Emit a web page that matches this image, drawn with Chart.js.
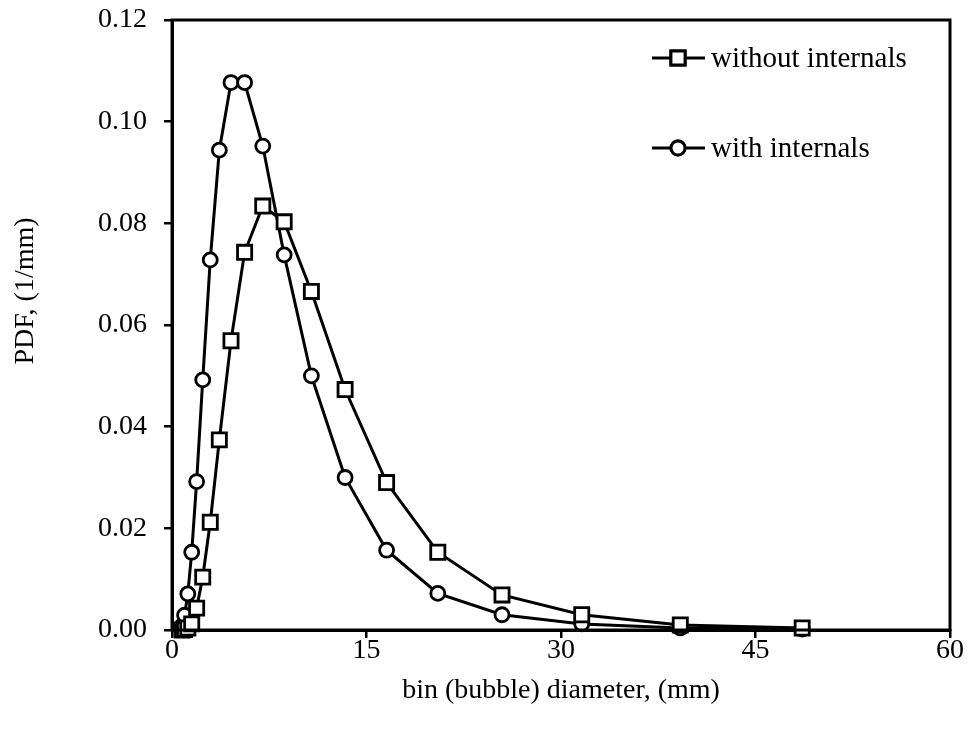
<!DOCTYPE html>
<html>
<head>
<meta charset="utf-8">
<script src="https://cdn.jsdelivr.net/npm/chart.js@4.4.1/dist/chart.umd.min.js"></script>
<style>
  html, body { margin: 0; padding: 0; background: #fff; }
</style>
</head>
<body>
<canvas id="pdfChart" width="971" height="751"></canvas>
<script>
// bin (bubble) diameter, mm
const bins = [0.78, 0.97, 1.22, 1.52, 1.9, 2.37, 2.95, 3.65, 4.55, 5.6, 7.0, 8.65, 10.75, 13.35, 16.55, 20.5, 25.45, 31.6, 39.2, 48.6];
// PDF, 1/mm
const withoutInternals = [0.0000, 0.0001, 0.0004, 0.0012, 0.0043, 0.0104, 0.0212, 0.0374, 0.0569, 0.0743, 0.0834, 0.0803, 0.0666, 0.0473, 0.0290, 0.0153, 0.0069, 0.0030, 0.0010, 0.0004];
const withInternals = [0.0008, 0.0029, 0.0071, 0.0153, 0.0292, 0.0492, 0.0728, 0.0944, 0.1077, 0.1077, 0.0952, 0.0738, 0.0500, 0.0300, 0.0157, 0.0072, 0.0030, 0.0012, 0.0004, 0.0002];
const seriesNames = ['without internals', 'with internals'];

const xTicks = [0, 15, 30, 45, 60];
const yTicks = [0, 0.02, 0.04, 0.06, 0.08, 0.10, 0.12];
const yTitle = 'PDF, (1/mm)';

const serif = "'Liberation Serif', 'Times New Roman', serif";
Chart.defaults.font.family = serif;
Chart.defaults.color = '#000';

const toPoints = (ys) => bins.map((x, i) => ({ x: x, y: ys[i] }));

// frame round the plot, y title and legend inside the plot area
const framePlugin = {
    id: 'frame',
    afterDraw(chart) {
        const ctx = chart.ctx;
        const a = chart.chartArea;
        ctx.save();
        ctx.strokeStyle = '#000';
        ctx.lineWidth = 3;
        ctx.strokeRect(a.left, a.top, a.right - a.left, a.bottom - a.top);

        // y axis title (sits a bit above the plot's middle in the original)
        ctx.save();
        ctx.translate(26, 291);
        ctx.rotate(-Math.PI / 2);
        ctx.fillStyle = '#000';
        ctx.font = '28px ' + serif;
        ctx.textAlign = 'center';
        ctx.textBaseline = 'middle';
        ctx.fillText(yTitle, 0, 0);
        ctx.restore();

        const rows = [
            { y: 58, style: 'rect', r: 10 },
            { y: 148, style: 'circle', r: 7 }
        ];
        rows.forEach((row, i) => {
            ctx.lineWidth = 3;
            ctx.beginPath();
            ctx.moveTo(652, row.y);
            ctx.lineTo(705, row.y);
            ctx.stroke();
            ctx.fillStyle = '#fff';
            Chart.helpers.drawPoint(ctx, { pointStyle: row.style, radius: row.r, borderWidth: 2.5 }, 678, row.y);
            ctx.fill();
            ctx.stroke();
            ctx.fillStyle = '#000';
            ctx.font = '29px ' + serif;
            ctx.textBaseline = 'middle';
            ctx.textAlign = 'left';
            ctx.fillText(seriesNames[i], 711, row.y + 1);
        });
        ctx.restore();
    }
};

new Chart(document.getElementById('pdfChart'), {
    type: 'scatter',
    data: {
        datasets: [{
            label: seriesNames[0],
            data: toPoints(withoutInternals),
            showLine: true,
            borderColor: '#000',
            borderWidth: 3,
            pointStyle: 'rect',
            pointRadius: 10,
            pointBorderWidth: 2.8,
            pointBackgroundColor: '#fff',
            pointBorderColor: '#000',
            clip: false
        }, {
            label: seriesNames[1],
            data: toPoints(withInternals),
            showLine: true,
            borderColor: '#000',
            borderWidth: 3,
            pointStyle: 'circle',
            pointRadius: 7,
            pointBorderWidth: 2.8,
            pointBackgroundColor: '#fff',
            pointBorderColor: '#000',
            clip: false
        }]
    },
    plugins: [framePlugin],
    options: {
        responsive: false,
        animation: false,
        layout: { padding: { top: 20, right: 21, left: 0, bottom: 0 } },
        plugins: {
            legend: { display: false },
            tooltip: { enabled: false }
        },
        scales: {
            x: {
                type: 'linear',
                min: 0,
                max: 60,
                afterBuildTicks: (scale) => { scale.ticks = xTicks.map(v => ({ value: v })); },
                afterFit: (scale) => {
                    scale.height = 121;
                    scale.paddingLeft = 0;
                    scale.paddingRight = 0;
                },
                ticks: { font: { size: 28 }, padding: -4, maxRotation: 0 },
                grid: { drawOnChartArea: false, drawTicks: true, tickLength: 8, color: '#000', lineWidth: 2.5 },
                border: { color: '#000', width: 3 },
                title: {
                    display: true,
                    text: 'bin (bubble) diameter, (mm)',
                    font: { size: 28 },
                    padding: { top: 0, bottom: 44 }
                }
            },
            y: {
                type: 'linear',
                min: 0,
                max: 0.12,
                afterBuildTicks: (scale) => { scale.ticks = yTicks.map(v => ({ value: v })); },
                afterFit: (scale) => {
                    scale.width = 172;
                    scale.paddingTop = 0;
                    scale.paddingBottom = 0;
                },
                ticks: {
                    font: { size: 28 },
                    padding: 17,
                    callback: (v) => v.toFixed(2)
                },
                grid: { drawOnChartArea: false, drawTicks: true, tickLength: 8, color: '#000', lineWidth: 2.5 },
                border: { color: '#000', width: 3 },
                title: { display: false }
            }
        }
    }
});
</script>
</body>
</html>
